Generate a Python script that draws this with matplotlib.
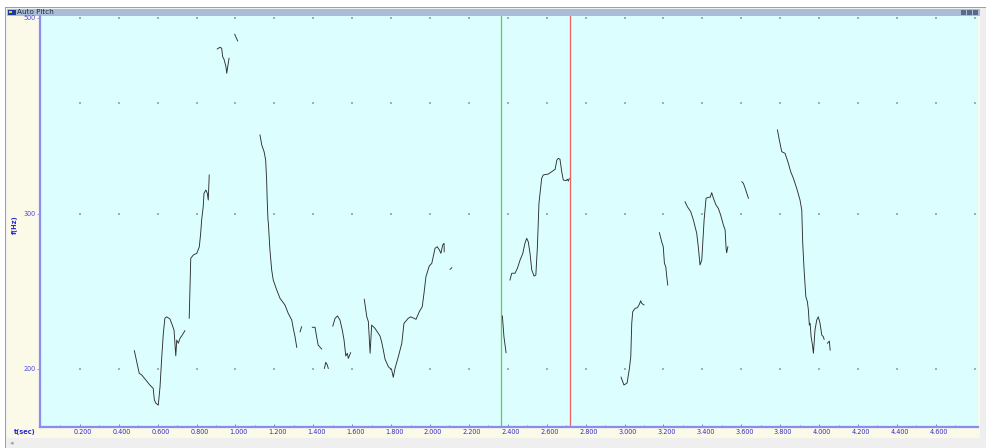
import numpy as np
import matplotlib
matplotlib.use("Agg")
import matplotlib.pyplot as plt
import matplotlib.transforms as mtransforms
from matplotlib.patches import Rectangle

# pitch track segments: time (s) / f0 (Hz)
t_a = [0.480, 0.505, 0.518, 0.560, 0.577, 0.583, 0.591, 0.603, 0.612, 0.621, 0.629, 0.637, 0.646,
       0.663, 0.675, 0.684, 0.693, 0.698, 0.706, 0.715, 0.726, 0.740]
f_a = [209.8, 197.8, 196.9, 191.8, 190.1, 184.4, 182.9, 182.0, 190.9, 206.5, 219.5, 228.3, 229.2,
       227.9, 224.3, 221.4, 207.0, 215.7, 213.9, 216.7, 218.5, 221.0]
t_b = [0.762, 0.770, 0.783, 0.801, 0.814, 0.821, 0.826, 0.834, 0.838, 0.848, 0.855, 0.860, 0.865]
f_b = [228.3, 267.0, 269.3, 270.5, 275.2, 285.0, 295.1, 305.5, 316.4, 319.1, 316.4, 310.9, 331.9]
t_c = [0.906, 0.920, 0.929, 0.934, 0.941, 0.951, 0.955, 0.960, 0.967]
f_c = [461.1, 463.2, 462.0, 452.0, 448.9, 440.3, 432.8, 440.3, 450.1]
t_d = [0.996, 1.011]
f_d = [479.2, 470.9]
t_e = [1.126, 1.135, 1.147, 1.155, 1.160, 1.163, 1.167, 1.169, 1.177, 1.186, 1.194, 1.212, 1.229,
       1.254, 1.271, 1.289, 1.297, 1.306, 1.315]
f_e = [368.4, 358.9, 352.7, 345.1, 327.6, 310.9, 295.1, 292.6, 272.9, 259.0, 252.3, 245.8, 240.5,
       236.4, 231.3, 227.3, 222.4, 217.6, 211.6]
t_f = [1.332, 1.340]
f_f = [220.4, 223.3]
t_g = [1.395, 1.409, 1.417, 1.425, 1.443]
f_g = [223.0, 223.0, 217.6, 212.9, 210.7]
t_h = [1.457, 1.464, 1.472, 1.477]
f_h = [200.3, 203.5, 202.1, 200.3]
t_i = [1.500, 1.512, 1.524, 1.537, 1.549, 1.558, 1.567, 1.575, 1.580, 1.592]
f_i = [223.7, 228.3, 229.7, 227.3, 221.4, 215.7, 206.9, 208.4, 205.6, 208.7]
t_j = [1.662, 1.675, 1.683, 1.692, 1.700, 1.717, 1.734, 1.743, 1.751, 1.760, 1.769, 1.786, 1.803,
       1.811, 1.820, 1.837, 1.855, 1.866, 1.888, 1.901, 1.928, 1.945, 1.960, 1.969, 1.979, 1.996,
       2.009, 2.026, 2.037, 2.048, 2.056, 2.065, 2.072, 2.073]
f_j = [239.9, 229.2, 226.3, 208.4, 224.3, 222.4, 219.5, 218.0, 214.8, 210.1, 205.1, 201.2, 199.5,
       195.7, 200.3, 206.5, 213.9, 225.3, 228.3, 229.2, 227.7, 232.3, 235.3, 243.7, 254.5, 261.7,
       263.5, 274.1, 275.2, 272.9, 270.5, 276.4, 277.7, 271.6]
t_k = [2.103, 2.112]
f_k = [259.4, 260.5]
t_l = [2.372, 2.380, 2.391]
f_l = [229.7, 217.6, 208.7]
t_m = [2.411, 2.420, 2.437, 2.449, 2.463, 2.477, 2.488, 2.497, 2.505, 2.514, 2.523, 2.535, 2.544,
       2.552, 2.560, 2.574, 2.582, 2.608, 2.626, 2.643, 2.652, 2.660, 2.668, 2.677, 2.685, 2.699,
       2.706, 2.711, 2.716]
f_m = [252.3, 256.8, 256.8, 260.1, 265.8, 270.5, 277.7, 281.3, 278.8, 270.5, 259.0, 254.9, 255.6,
       275.2, 308.2, 329.0, 331.9, 332.7, 334.8, 336.8, 345.1, 346.6, 345.8, 334.8, 327.6, 327.0,
       328.2, 326.7, 328.8]
t_n = [2.982, 2.997, 3.013, 3.025, 3.032, 3.037, 3.042, 3.054, 3.066, 3.076, 3.083, 3.088, 3.100]
f_n = [195.8, 191.8, 192.8, 200.3, 206.5, 225.3, 232.3, 234.3, 234.7, 236.8, 239.0, 237.4, 236.4]
t_o = [3.179, 3.191, 3.199, 3.205, 3.212, 3.217, 3.222]
f_o = [285.5, 278.8, 275.2, 263.5, 261.2, 254.5, 249.0]
t_p = [3.311, 3.323, 3.340, 3.354, 3.371, 3.379, 3.388, 3.397, 3.409, 3.419, 3.431, 3.440, 3.448,
       3.457, 3.470, 3.482, 3.494, 3.508, 3.517, 3.522, 3.525, 3.531]
f_p = [309.5, 305.5, 301.6, 295.1, 285.0, 275.2, 262.4, 265.8, 295.1, 312.3, 313.1, 313.1, 316.9,
       312.3, 306.9, 304.2, 299.0, 291.3, 287.5, 274.1, 270.9, 275.2]
t_q = [3.603, 3.611, 3.623, 3.637]
f_q = [326.1, 324.8, 319.1, 312.3]
t_r = [3.786, 3.794, 3.808, 3.825, 3.842, 3.854, 3.868, 3.885, 3.902, 3.911, 3.916, 3.923, 3.932,
       3.940, 3.945, 3.950, 3.954, 3.959, 3.966, 3.971, 3.979, 3.988, 3.996, 4.005, 4.014, 4.022,
       4.026]
f_r = [373.3, 365.2, 352.7, 351.2, 342.2, 334.8, 329.0, 320.5, 310.9, 302.9, 277.7, 259.0, 241.5,
       238.4, 233.3, 224.3, 225.3, 217.6, 212.9, 208.4, 221.4, 227.3, 229.2, 225.3, 218.5, 217.6,
       216.1]
t_s = [4.043, 4.053, 4.057]
f_s = [213.9, 215.1, 210.1]

segments = [(t_a, f_a), (t_b, f_b), (t_c, f_c), (t_d, f_d), (t_e, f_e), (t_f, f_f), (t_g, f_g),
            (t_h, f_h), (t_i, f_i), (t_j, f_j), (t_k, f_k), (t_l, f_l), (t_m, f_m), (t_n, f_n),
            (t_o, f_o), (t_p, f_p), (t_q, f_q), (t_r, f_r), (t_s, f_s)]

cursor_green = 2.365
cursor_red = 2.720

x_ticks = [0.2, 0.4, 0.6, 0.8, 1.0, 1.2, 1.4, 1.6, 1.8, 2.0, 2.2, 2.4, 2.6, 2.8, 3.0, 3.2, 3.4,
           3.6, 3.8, 4.0, 4.2, 4.4, 4.6]
y_ticks = [200, 300, 500]
y_grid = [200, 300, 400, 500]

W, H = 987, 448
fig = plt.figure(figsize=(W / 100, H / 100), dpi=100)
fig.patch.set_facecolor("#ffffff")


def box(x0, y0, x1, y1, color, z=0):
    fig.patches.append(Rectangle((x0 / W, 1 - y1 / H), (x1 - x0) / W, (y1 - y0) / H,
                                 transform=fig.transFigure, facecolor=color,
                                 edgecolor="none", zorder=z - 10))


# window frame
box(5, 7, 987, 448, "#a0a0a0")
box(6, 8, 987, 448, "#f0f0f0")
box(7, 9, 980, 16, "#a9bdd8")
box(7, 16, 980, 438, "#fbf9e8")
box(980, 9, 987, 438, "#eeeeee")
box(7, 438, 987, 448, "#efefef")
box(8, 10, 16, 15, "#1c3c9c", 1)
box(9, 11, 12, 13, "#e8d020", 2)
for bx in (961, 967, 973):
    box(bx, 10, bx + 5, 15, "#5a6a88", 1)
fig.text(17 / W, 1 - 12.5 / H, "Auto Pitch", fontsize=5.2, color="#1a2a48",
         va="center", ha="left")

ax = fig.add_axes([40 / W, 21 / H, 938 / W, 411 / H])
ax.set_facecolor("#dcfefe")
ax.set_yscale("log")
ax.set_xlim(-0.005, 4.817)
ax.set_ylim(171.9, 502.6)

for s in ("top", "right"):
    ax.spines[s].set_visible(False)
for s in ("left", "bottom"):
    ax.spines[s].set_color("#8c8cf0")
    ax.spines[s].set_linewidth(1.6)

ax.set_xticks(x_ticks)
ax.set_xticklabels(["%.3f" % v for v in x_ticks])
ax.set_xticks(np.arange(0.1, 4.81, 0.2), minor=True)
ax.set_yticks(y_ticks)
ax.set_yticklabels([str(v) for v in y_ticks])
ax.yaxis.set_minor_locator(matplotlib.ticker.NullLocator())
ax.tick_params(axis="x", which="both", direction="in", length=2.5, width=0.6,
               color="#6c6cd8", labelsize=4.7, labelcolor="#2e2ec8", pad=1.5)
ax.tick_params(axis="x", which="minor", length=1.5)
ax.tick_params(axis="y", direction="out", length=2, width=0.6, color="#9090e0",
               labelsize=4.7, labelcolor="#4a4ae0", pad=1)

# labels sit a little to the right of their ticks
shift = mtransforms.ScaledTranslation(3 / 100, 0, fig.dpi_scale_trans)
for lbl in ax.get_xticklabels():
    lbl.set_transform(lbl.get_transform() + shift)

# dotted grid at tick intersections
gx, gy = np.meshgrid(np.arange(0.2, 4.81, 0.2), y_grid)
ax.scatter(gx.ravel(), gy.ravel(), s=1.0, color="#9fb0b0", marker="s", linewidths=0, zorder=1)

ax.axvline(cursor_green, color="#5ccc5c", lw=0.9, zorder=2)
ax.axvline(cursor_red, color="#ef6060", lw=0.9, zorder=2)

for t, f in segments:
    ax.plot(t, f, color="#2e2e2e", lw=0.65, zorder=3)

fig.text(15 / W, 1 - 225 / H, "f(Hz)", rotation=90, fontsize=4.8, color="#2a2ad0",
         fontweight="bold", ha="center", va="center")
fig.text(25 / W, 1 - 432 / H, "t(sec)", fontsize=4.8, color="#2a2ad0",
         fontweight="bold", ha="center", va="center")
fig.text(12 / W, 1 - 443 / H, "◂", fontsize=5, color="#a0a0a0", ha="center", va="center")

fig.savefig("out.png", dpi=100, facecolor=fig.get_facecolor())
